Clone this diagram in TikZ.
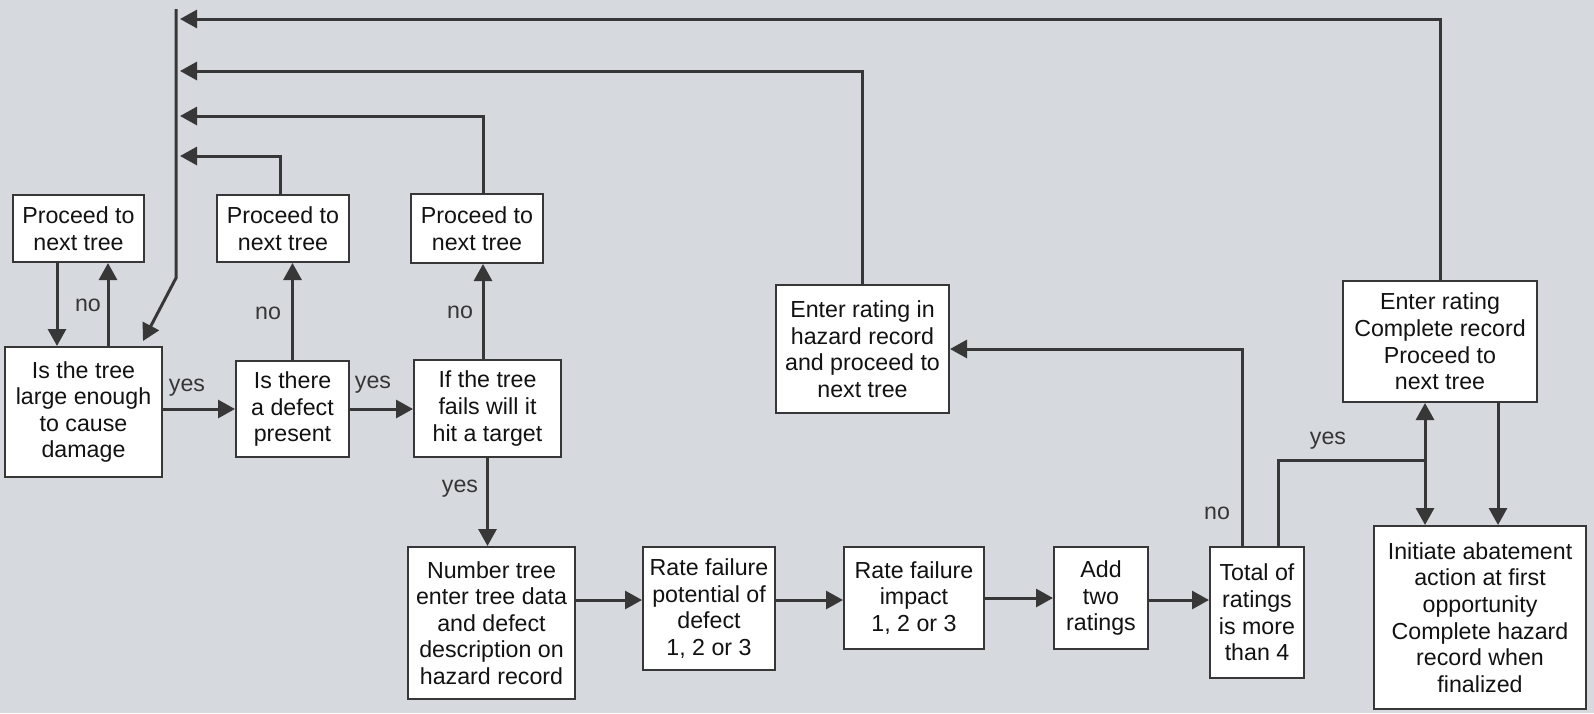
\documentclass[tikz,border=0pt]{standalone}
\usepackage{fontspec}
\setmainfont{Liberation Sans}
\usetikzlibrary{arrows.meta}
\definecolor{bg}{RGB}{214,217,222}
\definecolor{ln}{RGB}{55,55,55}
\definecolor{tx}{RGB}{18,18,18}
\begin{document}
\begin{tikzpicture}[x=0.5pt,y=-0.5pt,
  box/.style={draw=ln, line width=1pt, fill=white, align=center, inner sep=0pt, text=tx, font=\fontsize{11.6}{13.3}\selectfont},
  arr/.style={draw=ln, line width=1.5pt, -{Triangle[length=8.5pt,width=9pt]}},
  lin/.style={draw=ln, line width=1.5pt},
  lbl/.style={text=tx!85, font=\fontsize{11.6}{13.3}\selectfont, inner sep=0pt}]
\fill[bg] (0,0) rectangle (1594,713);
\useasboundingbox (0,0) rectangle (1594,713);

% boxes
\node[box, minimum width=65.5pt, minimum height=33.5pt] (P1) at (78.5,228.5) {Proceed to\\next tree};
\node[box, minimum width=66pt, minimum height=33.5pt] (P2) at (283,228.5) {Proceed to\\next tree};
\node[box, minimum width=66pt, minimum height=34.5pt] (P3) at (477,228.5) {Proceed to\\next tree};
\node[box, minimum width=78.5pt, minimum height=65pt] (Q1) at (83.5,412) {Is the tree\\large enough\\to cause\\damage};
\node[box, minimum width=56.5pt, minimum height=48pt] (Q2) at (292.5,409) {Is there\\a defect\\present};
\node[box, minimum width=73.5pt, minimum height=48.5pt] (Q3) at (487.5,408.5) {If the tree\\fails will it\\hit a target};
\node[box, minimum width=83.5pt, minimum height=76pt] (N) at (491.5,623) {Number tree\\enter tree data\\and defect\\description on\\hazard record};
\node[box, minimum width=66pt, minimum height=61.5pt] (RP) at (709,608.5) {Rate failure\\potential of\\defect\\1, 2 or 3};
\node[box, minimum width=70pt, minimum height=51pt] (RI) at (914,598) {Rate failure\\impact\\1, 2 or 3};
\node[box, minimum width=47pt, minimum height=51pt] (AT) at (1101,598) {Add\\two\\ratings};
\node[box, minimum width=47pt, minimum height=65.5pt] (T) at (1257,612.5) {Total of\\ratings\\is more\\than 4};
\node[box, minimum width=86.5pt, minimum height=64pt] (EH) at (862.5,349) {Enter rating in\\hazard record\\and proceed to\\next tree};
\node[box, minimum width=97pt, minimum height=60.5pt] (EC) at (1440,341.5) {Enter rating\\Complete record\\Proceed to\\next tree};
\node[box, minimum width=106pt, minimum height=91.5pt] (IN) at (1480,617.5) {Initiate abatement\\action at first\\opportunity\\Complete hazard\\record when\\finalized};

% helper coordinates
\coordinate (k57) at (57,0);
\coordinate (k108) at (108,0);
\coordinate (k280) at (280,0);
\coordinate (k483) at (483,0);
\coordinate (k600) at (0,600);
\coordinate (k1242) at (1242,0);
\coordinate (k1278) at (1278,0);
\coordinate (k1498) at (1498,0);
\coordinate (j) at (1425,460);
\coordinate (bustop) at (176,9);
\coordinate (busbend) at (176,278);
\coordinate (r1) at (180,19);
\coordinate (r2) at (180,71);
\coordinate (r3) at (180,116);
\coordinate (r4) at (180,156);

% bus
\draw[arr] (bustop) -- (busbend) -- ([xshift=-10pt,yshift=2.5pt]Q1.north east);

% returns to bus
\draw[arr] (EC.north) |- (r1);
\draw[arr] (EH.north) |- (r2);
\draw[arr] (P3.north -| k483) |- (r3);
\draw[arr] (P2.north -| k280) |- (r4);

% left group
\draw[arr] (P1.south -| k57) -- (Q1.north -| k57);
\draw[arr] (Q1.north -| k108) -- (P1.south -| k108);
\draw[arr] (Q2.north) -- (P2.south -| Q2.north);
\draw[arr] (Q3.north -| k483) -- (P3.south -| k483);
\draw[arr] (Q1.east |- Q2.west) -- (Q2.west);
\draw[arr] (Q2.east) -- (Q3.west |- Q2.east);
\draw[arr] (Q3.south) -- (N.north -| Q3.south);

% bottom row
\draw[arr] (N.east |- k600) -- (RP.west |- k600);
\draw[arr] (RP.east |- k600) -- (RI.west |- k600);
\draw[arr] (RI.east) -- (AT.west);
\draw[arr] (AT.east |- k600) -- (T.west |- k600);

% decisions at total
\draw[arr] (T.north -| k1242) |- (EH.east);
\draw[lin] (T.north -| k1278) |- (j);
\draw[arr] (j) -- (EC.south -| j);
\draw[arr] (j) -- (IN.north -| j);
\draw[arr] (EC.south -| k1498) -- (IN.north -| k1498);

% labels
\node[lbl] (no1) at (88,305) {no};
\node[lbl] (no2) at (268,313) {no};
\node[lbl] (no3) at (460,312) {no};
\node[lbl] (yes1) at (187,388) {yes};
\node[lbl] (yes2) at (373,385) {yes};
\node[lbl] (yes3) at (460,489) {yes};
\node[lbl] (no4) at (1217,513) {no};
\node[lbl] (yes4) at (1328,441) {yes};
\end{tikzpicture}
\end{document}
